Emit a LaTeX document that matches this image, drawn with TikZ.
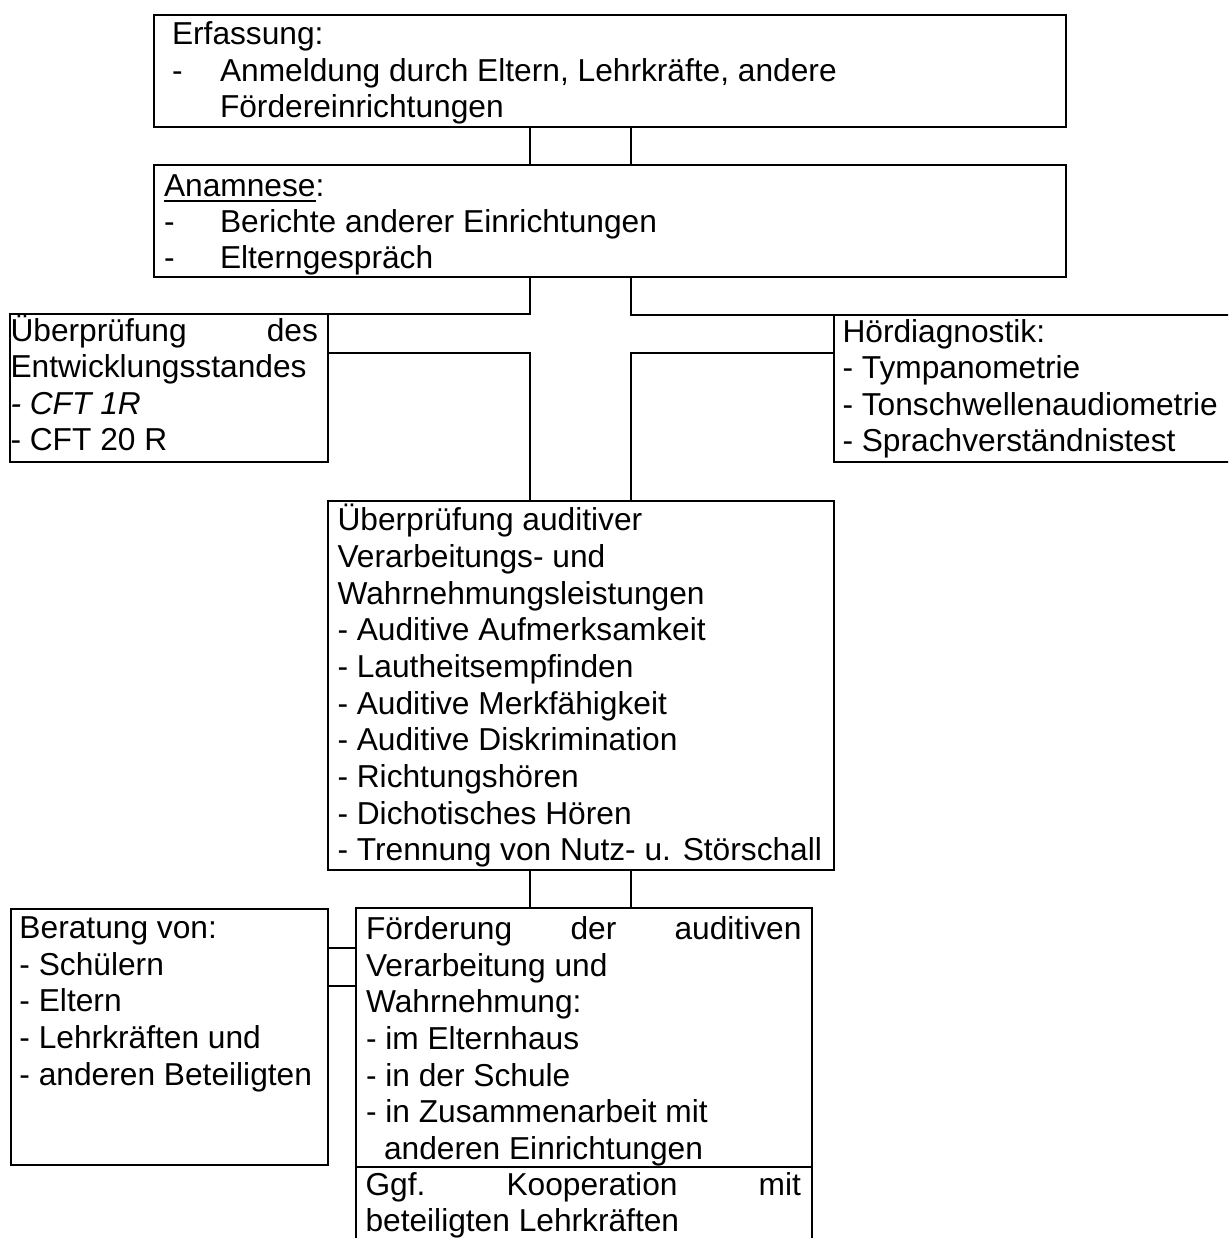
\documentclass[tikz,border=0pt]{standalone}
\usepackage{fontspec}
\setmainfont{Liberation Sans}
\newcommand\fnt{\fontsize{31.7pt}{36.7pt}\selectfont}
\begin{document}
\begin{tikzpicture}[x=1pt,y=-1pt,
  box/.style={draw, line width=1.7pt, inner sep=0pt, outer sep=0pt, anchor=north west},
  txt/.style={anchor=base west, inner sep=0pt, outer sep=0pt, font=\fnt},
  jtxt/.style={txt, align=justify, text width=#1},
  conn/.style={line width=1.7pt}]
\useasboundingbox (0,0) rectangle (1228,1238);
\clip (0,0) rectangle (1228,1238);

% boxes
\node[box, minimum width=912pt, minimum height=112pt] (b1) at (154,15) {};
\node[box, minimum width=912pt, minimum height=112pt] (b2) at (154,165) {};
\node[box, minimum width=318pt, minimum height=148pt] (lb) at (10,314.3) {};
\node[box, minimum width=420pt, minimum height=147.3pt] (rb) at (834,315) {};
\node[box, minimum width=506pt, minimum height=369pt] (cb) at (328,501) {};
\node[box, minimum width=317pt, minimum height=256pt] (bb) at (11,909) {};
\node[box, minimum width=456pt, minimum height=259pt] (fb) at (356,908) {};
\node[box, minimum width=456pt, minimum height=90pt] (gb) at (356,1167) {};

% helper coordinates
\coordinate (cL) at (530,0);
\coordinate (cR) at (630.7,0);
\coordinate (hL) at (0,353);
\coordinate (hB1) at (0,947.7);
\coordinate (hB2) at (0,985.7);

% connectors
\draw[conn] (b1.south -| cL) -- (b2.north -| cL);
\draw[conn] (b1.south -| cR) -- (b2.north -| cR);
\draw[conn] (b2.south -| cL) |- (lb.north east);
\draw[conn] (b2.south -| cR) |- (rb.north west);
\draw[conn] (lb.east |- hL) -| (cb.north -| cL);
\draw[conn] (rb.west |- hL) -| (cb.north -| cR);
\draw[conn] (cb.south -| cL) -- (fb.north -| cL);
\draw[conn] (cb.south -| cR) -- (fb.north -| cR);
\draw[conn] (bb.east |- hB1) -- (fb.west |- hB1);
\draw[conn] (bb.east |- hB2) -- (fb.west |- hB2);

% Erfassung
\node[txt] (e1) at (172,45) {Erfassung:};
\node[txt] (e2) at (172,81.5) {-};
\node[txt] (e3) at (220,81.5) {Anmeldung durch Eltern, Lehrkräfte, andere};
\node[txt] (e4) at (220,118) {Fördereinrichtungen};

% Anamnese
\node[txt] (a1) at (164,197) {Anamnese};
\node[txt] (a1c) at (a1.base east) {:};
\draw[line width=2pt] ([yshift=-3.8pt]a1.base west) -- ([yshift=-3.8pt]a1.base east);
\node[txt] (a2) at (164,233) {-};
\node[txt] (a3) at (220,233) {Berichte anderer Einrichtungen};
\node[txt] (a4) at (164,269) {-};
\node[txt] (a5) at (220,269) {Elterngespräch};

% Entwicklungsstand
\node[jtxt=307.5pt] (l1) at (10.5,341) {Überprüfung\hfill des};
\node[txt] (l2) at (10.5,377.5) {Entwicklungsstandes};
\node[txt] (l3) at (10.5,414) {\itshape - CFT 1R};
\node[txt] (l4) at (10.5,450.5) {- CFT 20 R};

% Hoerdiagnostik
\node[txt] (r1) at (842.5,342) {Hördiagnostik:};
\node[txt] (r2) at (842.5,378.5) {- Tympanometrie};
\node[txt] (r3) at (842.5,415) {- Tonschwellenaudiometrie};
\node[txt] (r4) at (842.5,451.5) {- Sprachverständnistest};

% central box
\node[txt] (c1) at (337.5,530.7) {Überprüfung auditiver};
\node[txt] (c2) at (337.5,567.4) {Verarbeitungs- und};
\node[txt] (c3) at (337.5,604.0) {Wahrnehmungsleistungen};
\node[txt] (c4) at (337.5,640.7) {- Auditive Aufmerksamkeit};
\node[txt] (c5) at (337.5,677.4) {- Lautheitsempfinden};
\node[txt] (c6) at (337.5,714.0) {- Auditive Merkfähigkeit};
\node[txt] (c7) at (337.5,750.7) {- Auditive Diskrimination};
\node[txt] (c8) at (337.5,787.4) {- Richtungshören};
\node[txt] (c9) at (337.5,824.0) {- Dichotisches Hören};
\node[txt] (c10) at (337.5,860.7) {- Trennung von Nutz- u. Störschall};

% Beratung
\node[txt] (s1) at (19.5,938.5) {Beratung von:};
\node[txt] (s2) at (19.5,975.2) {- Schülern};
\node[txt] (s3) at (19.5,1011.8) {- Eltern};
\node[txt] (s4) at (19.5,1048.5) {- Lehrkräften und};
\node[txt] (s5) at (19.5,1085.2) {- anderen Beteiligten};

% Foerderung
\node[jtxt=435.5pt] (f1) at (366,939.5) {Förderung\hfill der\hfill auditiven};
\node[txt] (f2) at (366,976.2) {Verarbeitung und};
\node[txt] (f3) at (366,1012.8) {Wahrnehmung:};
\node[txt] (f4) at (366,1049.5) {- im Elternhaus};
\node[txt] (f5) at (366,1086.2) {- in der Schule};
\node[txt] (f6) at (366,1122.8) {- in Zusammenarbeit mit};
\node[txt] (f7) at (384,1159.5) {anderen Einrichtungen};

% Kooperation
\node[jtxt=435.5pt] (g1) at (365.5,1195) {Ggf.\hfill Kooperation\hfill mit};
\node[txt] (g2) at (365.5,1231.7) {beteiligten Lehrkräften};
\end{tikzpicture}
\end{document}
